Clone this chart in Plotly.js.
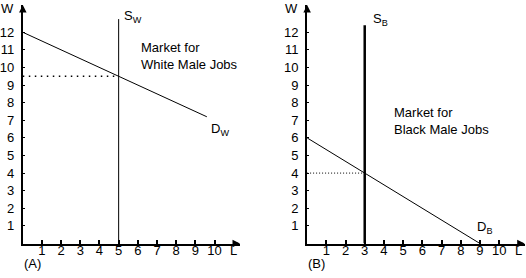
<!DOCTYPE html>
<html><head><meta charset="utf-8">
<script src="https://cdn.plot.ly/plotly-3.0.1.min.js"></script>
<style>html,body{margin:0;padding:0;background:#fff}#c{width:526px;height:278px}</style>
</head><body><div id="c"></div>
<script>
// Tick values
const xTicks = [1,2,3,4,5,6,7,8,9,10];
const yTicks = [1,2,3,4,5,6,7,8,9,10,11,12];
// Panel A: market for white male jobs
const demandWhiteL = [0, 9.6];
const demandWhiteW = [12, 7.2];
const supplyWhiteL = [5, 5];
const supplyWhiteW = [0, 12.75];
const eqWhiteL = [0, 5];
const eqWhiteW = [9.5, 9.5];
// Panel B: market for black male jobs
const demandBlackL = [0, 9];
const demandBlackW = [6, 0];
const supplyBlackL = [3, 3];
const supplyBlackW = [0, 12.4];
const eqBlackL = [0, 3];
const eqBlackW = [4, 4];

const FONT = 'Liberation Sans, Arial, sans-serif';
const XMAX = 11.33, YMAX = 13.55;
const W = 526, H = 278;
const px = v => v / W, py = v => 1 - v / H;

function line(x, y, xa, ya, w, dash) {
  return {x: x, y: y, xaxis: xa, yaxis: ya, mode: 'lines', type: 'scatter',
    line: {color: '#000', width: w, dash: dash || 'solid'}, hoverinfo: 'skip', showlegend: false, cliponaxis: false};
}
const traces = [
  line(demandWhiteL, demandWhiteW, 'x', 'y', 1),
  line(supplyWhiteL, supplyWhiteW, 'x', 'y', 1),
  line(eqWhiteL, eqWhiteW, 'x', 'y', 1.5, '1.5px,4.5px'),
  line(demandBlackL, demandBlackW, 'x2', 'y2', 1),
  line(supplyBlackL, supplyBlackW, 'x2', 'y2', 2.5),
  line(eqBlackL, eqBlackW, 'x2', 'y2', 1, '1px,2px'),
];

function xax(domain) {
  return {domain: domain, range: [0, XMAX], tickvals: xTicks, ticktext: xTicks.map(String),
    showline: true, linewidth: 2, linecolor: '#000', ticks: 'inside', ticklen: 4, tickwidth: 2, tickcolor: '#000',
    showgrid: false, zeroline: false, tickfont: {family: FONT, size: 13, color: '#000'}, ticklabelstandoff: -6, fixedrange: true};
}
function yax(anchor) {
  return {domain: [py(243.5), py(5)], range: [0, YMAX], tickvals: yTicks, ticktext: yTicks.map(String), anchor: anchor,
    showline: true, linewidth: 2, linecolor: '#000', ticks: 'inside', ticklen: 2, tickwidth: 1, tickcolor: '#000',
    showgrid: false, zeroline: false, tickfont: {family: FONT, size: 13, color: '#000'}, ticklabelstandoff: 4, fixedrange: true};
}

function txt(x, y, xr, yr, t, opts) {
  return Object.assign({x: x, y: y, xref: xr, yref: yr, text: t, showarrow: false,
    xanchor: 'center', yanchor: 'middle',
    font: {family: FONT, size: 13, color: '#000'}}, opts || {});
}
function arrow(x, y, ax, ay) {
  return {x: x, y: y, ax: ax, ay: ay, xref: 'paper', yref: 'paper', text: '',
    showarrow: true, arrowhead: 2, arrowsize: 1, arrowwidth: 1.5, arrowcolor: '#000'};
}

const annotations = [
  // Panel A
  txt(px(7), py(8), 'paper', 'paper', 'W'),
  txt(5.75, 12.9, 'x', 'y', 'S<sub>W</sub>'),
  txt(10.3, 6.5, 'x', 'y', 'D<sub>W</sub>'),
  txt(6.05, 10.65, 'x', 'y', 'Market for<br>White Male Jobs', {xanchor: 'left', align: 'left'}),
  txt(px(32), py(263), 'paper', 'paper', '(A)'),
  txt(px(233), py(250), 'paper', 'paper', 'L'),
  arrow(px(240), py(243.5), -8, 0),
  arrow(px(22.8), py(5), 0, 8),
  // Panel B
  txt(px(291), py(8), 'paper', 'paper', 'W'),
  txt(3.8, 12.7, 'x2', 'y2', 'S<sub>B</sub>'),
  txt(9.25, 0.9, 'x2', 'y2', 'D<sub>B</sub>'),
  txt(4.42, 6.95, 'x2', 'y2', 'Market for<br>Black Male Jobs', {xanchor: 'left', align: 'left'}),
  txt(px(316), py(263), 'paper', 'paper', '(B)'),
  txt(px(518), py(250), 'paper', 'paper', 'L'),
  arrow(px(524.7), py(243.5), -8, 0),
  arrow(px(307.1), py(5), 0, 8),
];

const layout = {
  width: W, height: H, margin: {l: 0, r: 0, t: 0, b: 0},
  paper_bgcolor: '#fff', plot_bgcolor: '#fff', showlegend: false,
  xaxis: Object.assign(xax([px(22.8), px(240)]), {anchor: 'y'}),
  yaxis: yax('x'),
  xaxis2: Object.assign(xax([px(307.1), px(524.7)]), {anchor: 'y2'}),
  yaxis2: yax('x2'),
  annotations: annotations,
};
Plotly.newPlot('c', traces, layout, {displayModeBar: false, staticPlot: true});
</script></body></html>
